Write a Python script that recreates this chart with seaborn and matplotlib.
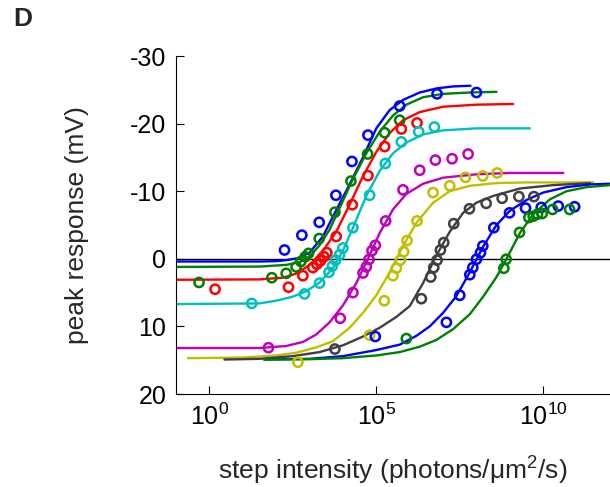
import numpy as np
import pandas as pd
import matplotlib
matplotlib.use("Agg")
import matplotlib.pyplot as plt
import seaborn as sns
from matplotlib.ticker import FixedLocator, NullLocator, LogFormatterSciNotation

# x values are log10(step intensity), y values are peak response in mV
b1_fit_lx = [-1.0, 1.5, 2.0, 2.3, 2.65, 3.0, 3.4, 3.8, 4.2, 4.6, 5.0, 5.4, 5.8, 6.3, 6.8, 7.3, 7.82]
b1_fit_mv = [0.4, 0.4, 0.35, 0.2, -0.1, -0.9, -3.3, -7.2, -11.0, -15.0, -19.3, -22.0, -23.5, -24.6, -25.2, -25.5, -25.6]
b1_pts_lx = [2.25, 2.77, 3.29, 3.79, 4.27, 4.75, 5.7, 6.82, 8.0]
b1_pts_mv = [-1.3, -3.5, -5.4, -9.4, -14.4, -18.3, -22.6, -24.4, -24.6]

g1_fit_lx = [-1.0, 1.5, 2.3, 2.7, 3.0, 3.3, 3.6, 3.9, 4.3, 4.7, 5.1, 5.5, 5.9, 6.4, 7.0, 7.8, 8.6]
g1_fit_mv = [1.2, 1.15, 0.9, 0.5, -0.3, -2.0, -4.3, -7.5, -11.8, -15.6, -18.8, -21.2, -22.8, -23.9, -24.4, -24.6, -24.7]
g1_pts_lx = [-0.31, 1.87, 2.3, 2.6, 2.74, 2.87, 2.97, 3.29, 3.76, 4.24, 4.74, 5.25, 5.7]
g1_pts_mv = [3.5, 2.8, 2.15, 1.2, 0.4, -0.3, -0.8, -3.0, -6.9, -11.5, -15.5, -18.65, -20.5]

r_fit_lx = [-1.0, 1.5, 2.2, 2.6, 3.0, 3.4, 3.8, 4.2, 4.6, 5.0, 5.4, 5.8, 6.3, 7.0, 8.0, 9.1]
r_fit_mv = [3.1, 3.05, 2.8, 2.2, 0.9, -1.2, -4.0, -8.0, -12.2, -15.8, -18.6, -20.5, -21.7, -22.5, -22.8, -22.9]
r_pts_lx = [0.17, 2.37, 2.8, 3.1, 3.22, 3.33, 3.43, 3.52, 3.8, 4.28, 4.75, 5.25, 5.75, 6.22]
r_pts_mv = [4.5, 4.2, 2.5, 1.3, 0.8, 0.3, -0.3, -0.9, -3.3, -8.0, -12.3, -16.6, -19.2, -20.1]

c_fit_lx = [-1.0, 1.5, 2.0, 2.5, 2.9, 3.3, 3.7, 4.0, 4.3, 4.7, 5.1, 5.5, 5.9, 6.4, 7.0, 8.0, 9.6]
c_fit_mv = [6.7, 6.6, 6.2, 5.6, 4.8, 3.5, 1.4, -1.2, -4.6, -9.3, -13.0, -15.6, -17.2, -18.4, -19.0, -19.3, -19.3]
c_pts_lx = [1.27, 2.85, 3.3, 3.58, 3.68, 3.78, 3.9, 4.0, 4.3, 4.8, 5.27, 5.75, 6.27, 6.74]
c_pts_mv = [6.6, 5.2, 3.6, 2.0, 1.1, 0.2, -0.6, -1.6, -4.6, -9.4, -14.1, -17.3, -18.8, -19.5]

m_fit_lx = [-1.0, 1.5, 2.3, 2.8, 3.2, 3.6, 4.0, 4.4, 4.75, 5.1, 5.5, 5.9, 6.4, 7.0, 8.0, 9.0, 10.6]
m_fit_mv = [13.2, 13.2, 12.9, 12.3, 11.2, 9.4, 6.9, 3.6, 0.0, -3.8, -7.3, -9.6, -11.1, -12.0, -12.5, -12.7, -12.7]
m_pts_lx = [1.77, 3.92, 4.3, 4.6, 4.7, 4.78, 4.87, 4.97, 5.28, 5.8, 6.3, 6.77, 7.27, 7.75]
m_pts_mv = [13.15, 8.8, 5.0, 2.1, 1.2, 0.1, -1.2, -2.0, -5.6, -10.2, -13.1, -14.6, -14.8, -15.5]

y_fit_lx = [-0.64, 1.0, 2.0, 2.6, 3.2, 3.7, 4.2, 4.6, 5.0, 5.4, 5.8, 6.2, 6.7, 7.2, 7.8, 8.6, 9.5, 11.5]
y_fit_mv = [14.7, 14.6, 14.3, 13.9, 13.1, 12.2, 10.2, 8.0, 5.4, 2.0, -1.9, -5.3, -8.3, -10.0, -10.8, -11.2, -11.3, -11.3]
y_pts_lx = [2.65, 4.8, 5.24, 5.5, 5.6, 5.72, 5.82, 5.92, 6.22, 6.7, 7.2, 7.67, 8.19, 8.62]
y_pts_mv = [15.3, 11.3, 6.2, 2.5, 1.4, 0.2, -1.05, -2.7, -5.6, -9.8, -10.8, -12.05, -12.25, -12.7]

k_fit_lx = [0.45, 1.5, 2.5, 3.3, 4.0, 4.6, 5.1, 5.6, 6.0, 6.4, 6.8, 7.2, 7.6, 8.0, 8.5, 9.3, 10.3, 11.4]
k_fit_mv = [14.9, 14.8, 14.4, 13.8, 12.8, 11.5, 10.2, 8.6, 7.0, 3.6, -0.5, -4.0, -6.8, -8.3, -9.3, -10.4, -10.9, -11.2]
k_pts_lx = [3.76, 6.35, 6.63, 6.72, 6.82, 6.92, 7.02, 7.32, 7.79, 8.29, 8.77, 9.27, 9.72]
k_pts_mv = [13.35, 5.9, 2.7, 1.3, 0.2, -1.3, -2.4, -5.2, -7.4, -8.2, -8.95, -9.2, -9.2]

b2_fit_lx = [1.64, 3.0, 4.0, 5.0, 5.7, 6.2, 6.6, 7.0, 7.4, 7.8, 8.2, 8.6, 9.0, 9.5, 10.0, 10.7, 11.4, 12.0]
b2_fit_mv = [14.9, 14.8, 14.4, 13.5, 12.7, 11.4, 10.0, 8.0, 5.5, 2.0, -1.8, -5.0, -7.1, -8.7, -9.8, -10.6, -11.0, -11.1]
b2_pts_lx = [4.97, 7.1, 7.5, 7.8, 7.89, 8.0, 8.12, 8.19, 8.52, 8.99, 9.47, 9.94, 10.45, 10.94]
b2_pts_mv = [11.5, 9.4, 5.4, 2.35, 1.3, 0.07, -0.9, -1.9, -4.6, -6.8, -7.5, -7.6, -7.8, -7.7]

g2_fit_lx = [1.64, 3.0, 4.0, 5.0, 5.7, 6.3, 6.8, 7.3, 7.8, 8.2, 8.6, 8.9, 9.3, 9.7, 10.2, 10.7, 11.3, 12.0]
g2_fit_mv = [14.9, 14.85, 14.7, 14.3, 13.8, 13.0, 12.0, 10.4, 8.2, 5.6, 2.7, 0.0, -3.8, -6.6, -8.8, -10.0, -10.6, -10.9]
g2_pts_lx = [5.9, 8.82, 8.89, 9.29, 9.57, 9.7, 9.83, 9.97, 10.28, 10.79]
g2_pts_mv = [11.8, 1.4, 0.07, -3.9, -6.1, -6.3, -6.6, -6.7, -7.3, -7.3]

# matlab-style colors
series = [
    ("#0000ff", b1_fit_lx, b1_fit_mv, b1_pts_lx, b1_pts_mv),
    ("#008000", g1_fit_lx, g1_fit_mv, g1_pts_lx, g1_pts_mv),
    ("#ff0000", r_fit_lx, r_fit_mv, r_pts_lx, r_pts_mv),
    ("#00bfbf", c_fit_lx, c_fit_mv, c_pts_lx, c_pts_mv),
    ("#bf00bf", m_fit_lx, m_fit_mv, m_pts_lx, m_pts_mv),
    ("#bfbf00", y_fit_lx, y_fit_mv, y_pts_lx, y_pts_mv),
    ("#404040", k_fit_lx, k_fit_mv, k_pts_lx, k_pts_mv),
    ("#0000ff", b2_fit_lx, b2_fit_mv, b2_pts_lx, b2_pts_mv),
    ("#008000", g2_fit_lx, g2_fit_mv, g2_pts_lx, g2_pts_mv),
]

sns.set_style("ticks")
plt.rcParams["font.family"] = ["Liberation Sans", "DejaVu Sans"]
plt.rcParams["mathtext.default"] = "regular"
plt.rcParams["axes.unicode_minus"] = False

fig = plt.figure(figsize=(6.1, 4.87), dpi=100)
ax = fig.add_axes([176 / 610, 1 - 394 / 487, 434 / 610, 338 / 487])

ax.axhline(0, color="black", lw=1.0, zorder=1)
for color, flx, fmv, plx, pmv in series:
    fit = pd.DataFrame({"x": np.power(10.0, flx), "y": fmv})
    pts = pd.DataFrame({"x": np.power(10.0, plx), "y": pmv})
    sns.lineplot(data=fit, x="x", y="y", color=color, lw=1.7, estimator=None, sort=False, ax=ax, zorder=2)
    sns.scatterplot(data=pts, x="x", y="y", marker="o", s=44, facecolor="none", edgecolor=color, linewidth=1.8, ax=ax, zorder=3)

ax.set_xscale("log")
ax.set_xlim(1e-1, 1e12)
ax.set_ylim(20, -30)
ax.xaxis.set_major_locator(FixedLocator([1, 1e5, 1e10]))
ax.xaxis.set_minor_locator(NullLocator())
ax.xaxis.set_major_formatter(LogFormatterSciNotation())
ax.set_yticks([-30, -20, -10, 0, 10, 20])
ax.tick_params(direction="in", length=5.5, width=0.8, labelsize=18, colors="black", pad=7)
for side in ["top", "right"]:
    ax.spines[side].set_visible(False)
for side in ["left", "bottom"]:
    ax.spines[side].set_linewidth(0.8)
    ax.spines[side].set_color("black")

ax.set_xlabel("step intensity (photons/μm$^{2}$/s)", fontsize=19)
ax.set_ylabel("peak response (mV)", fontsize=19)
ax.xaxis.set_label_coords(0.5, -0.18)
ax.yaxis.set_label_coords(-0.2, 0.5)

fig.text(0.022, 0.985, "D", fontsize=19, fontweight="bold", va="top", ha="left")

fig.savefig("out.png", dpi=100)
